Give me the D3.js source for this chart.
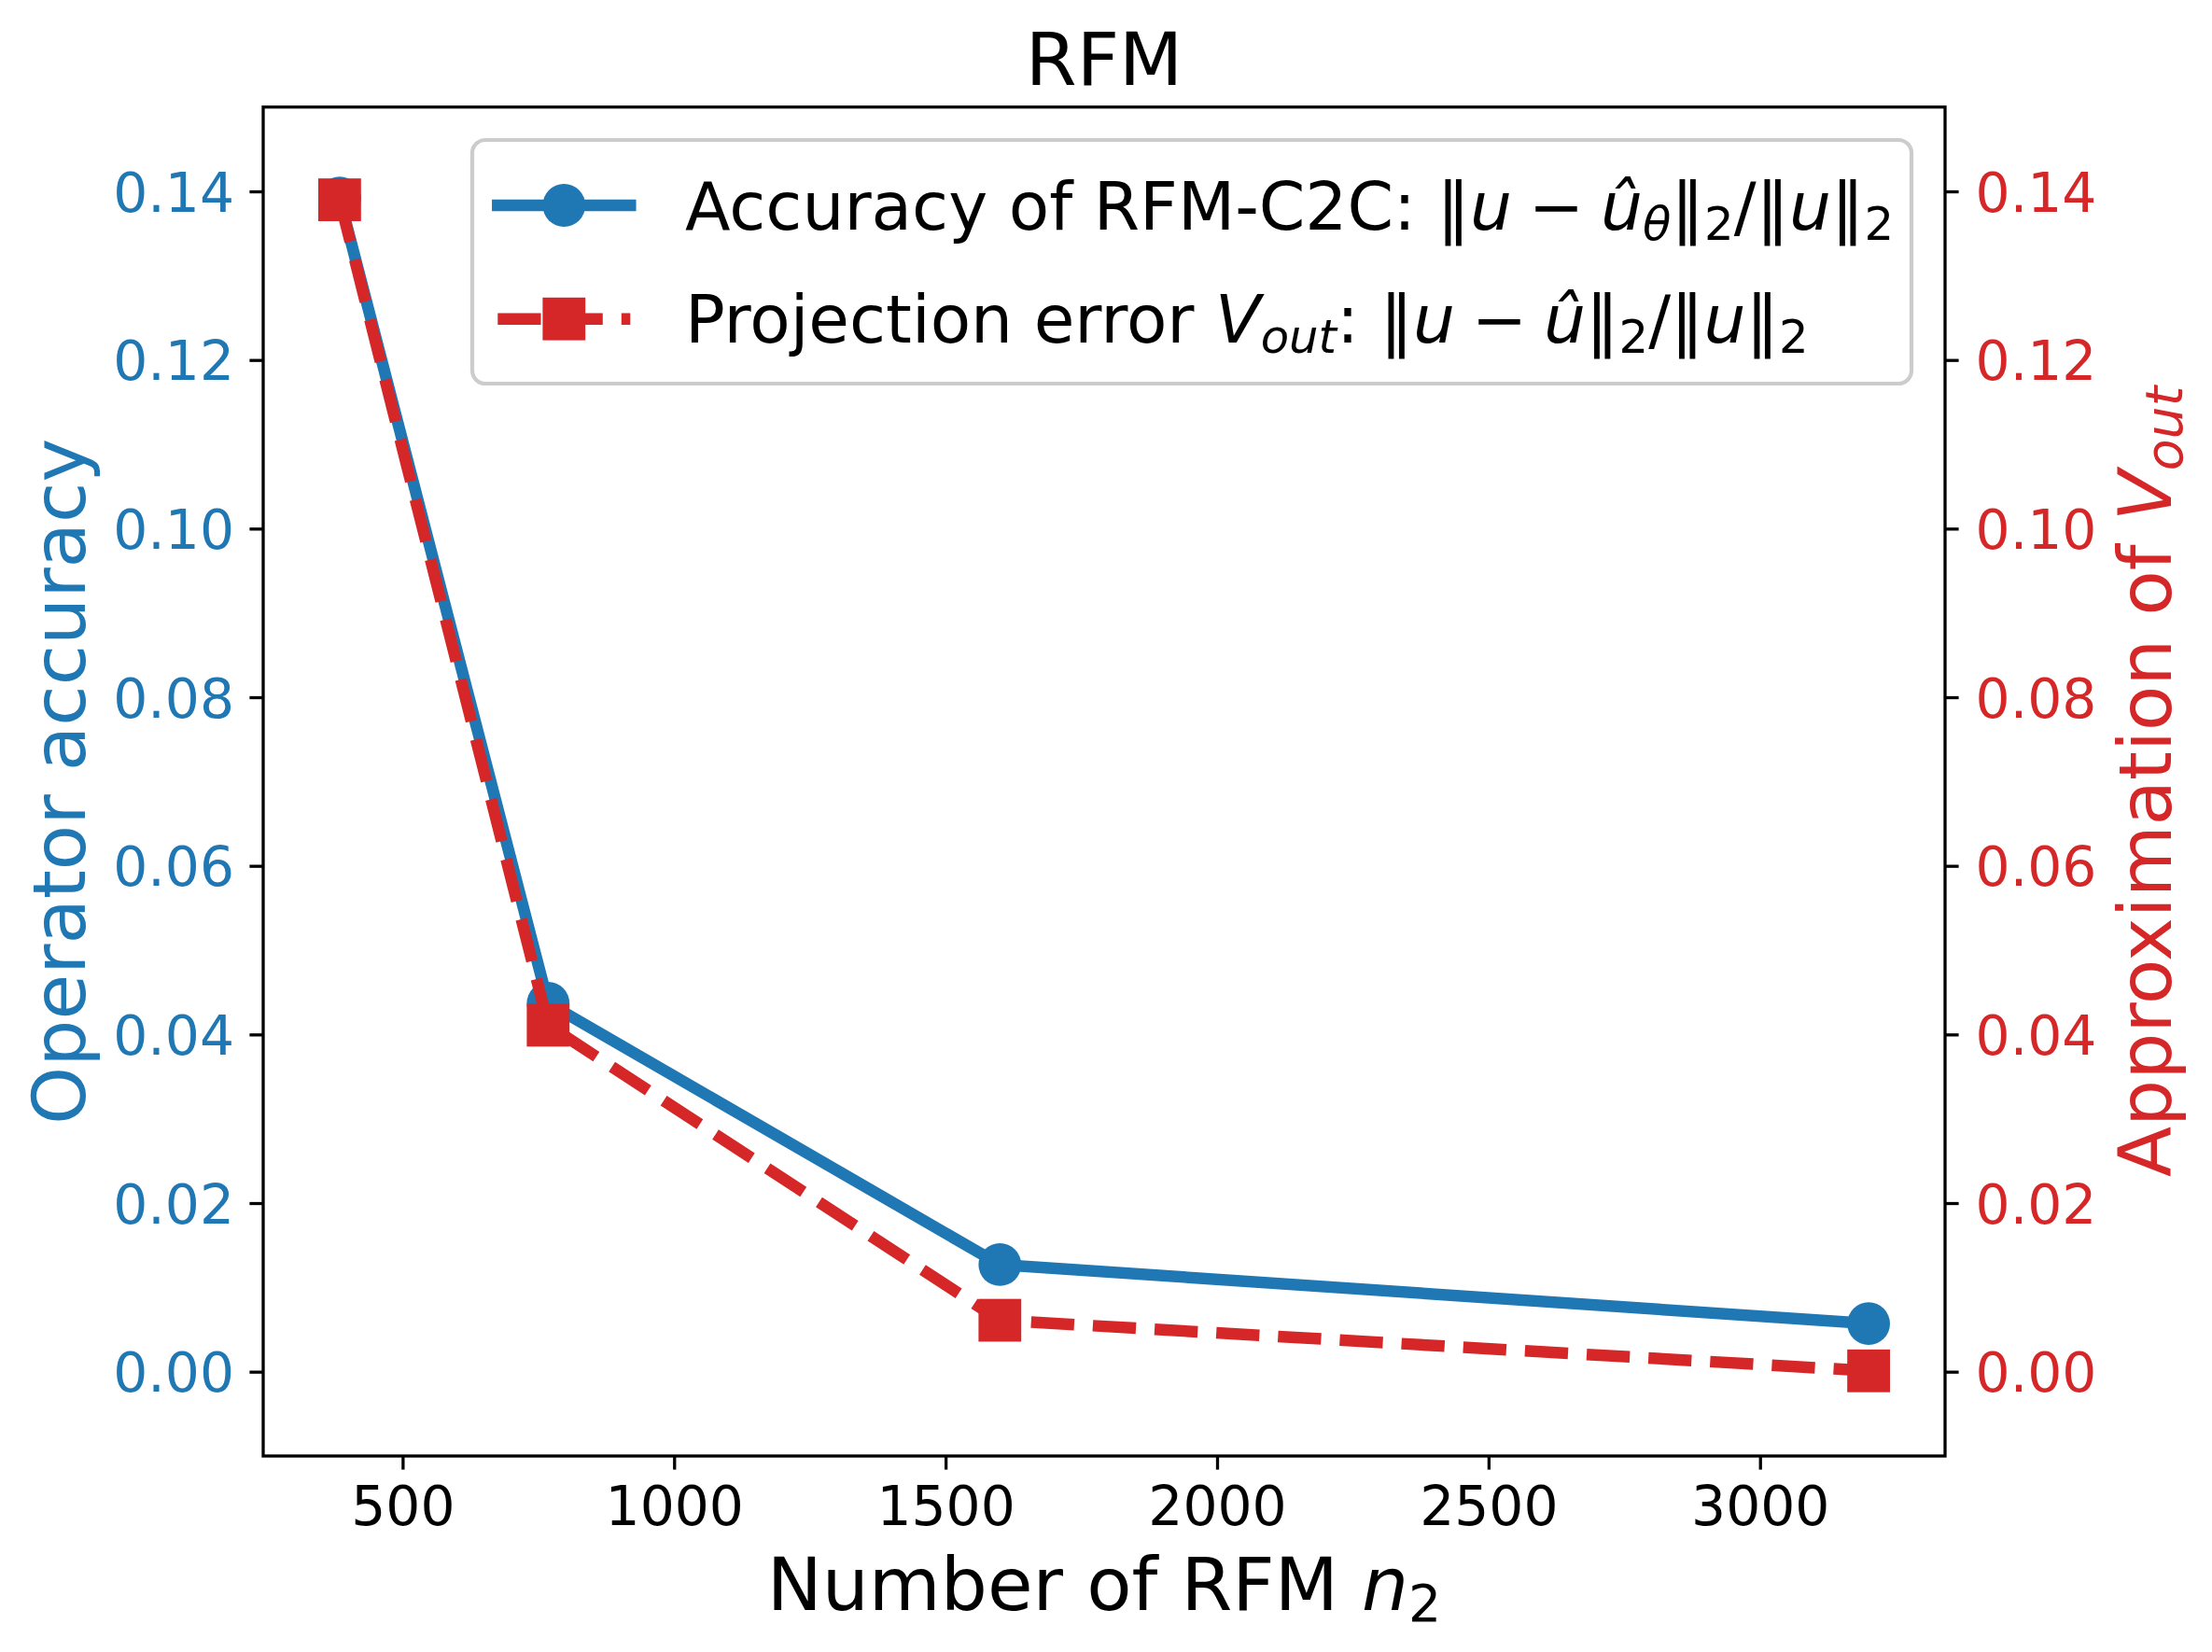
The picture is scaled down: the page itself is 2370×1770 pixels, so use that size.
<!DOCTYPE html>
<html><head><meta charset="utf-8">
<script src="https://cdn.jsdelivr.net/npm/d3@7"></script>
<style>
body{margin:0;background:#fff}
svg{display:block}
text{font-family:"DejaVu Sans",sans-serif}
</style>
</head><body>
<svg id="c" width="2370" height="1770"></svg>
<script>
// ---- data ----
const nValues = [384, 768, 1600, 3200];
const operatorAccuracy = [0.1392, 0.0437, 0.0127, 0.0057];
const projectionError = [0.1390, 0.0411, 0.0061, 0.0001];
const xTicks = [500, 1000, 1500, 2000, 2500, 3000];
const yTicks = [0.00, 0.02, 0.04, 0.06, 0.08, 0.10, 0.12, 0.14];
const titleText = "RFM";

const BLUE = "#1f77b4", RED = "#d62728";
const L = 282, R = 2084, T = 114.7, B = 1560;
const svg = d3.select("#c");

const x = d3.scaleLinear().domain([243.2, 3340.8]).range([L, R]);
const yL = d3.scaleLinear().domain([-0.01, 0.15]).range([B, T]);
const yR = d3.scaleLinear().domain([-0.01, 0.15]).range([B, T]);

const tickLen = 14.6, tickW = 3.3, tickFs = 58.3;

// axes
const gx = svg.append("g").attr("transform", `translate(0,${B})`)
  .call(d3.axisBottom(x).tickValues(xTicks).tickFormat(d3.format("d")).tickSize(tickLen).tickPadding(18));
const gyl = svg.append("g").attr("transform", `translate(${L},0)`)
  .call(d3.axisLeft(yL).tickValues(yTicks).tickFormat(d3.format(".2f")).tickSize(tickLen).tickPadding(16.4));
const gyr = svg.append("g").attr("transform", `translate(${R},0)`)
  .call(d3.axisRight(yR).tickValues(yTicks).tickFormat(d3.format(".2f")).tickSize(tickLen).tickPadding(18));
[gx, gyl, gyr].forEach(g => {
  g.select(".domain").remove();
  g.selectAll(".tick line").attr("stroke", "#000").attr("stroke-width", tickW);
  g.selectAll(".tick text").attr("font-size", tickFs).attr("font-family", "DejaVu Sans");
});
gx.selectAll(".tick text").attr("fill", "#000");
gyl.selectAll(".tick text").attr("fill", BLUE).attr("dy", "0.36em");
gyr.selectAll(".tick text").attr("fill", RED).attr("dy", "0.36em");

// lines
const lineBlue = d3.line().x((d, i) => x(nValues[i])).y(d => yL(d));
const lineRed = d3.line().x((d, i) => x(nValues[i])).y(d => yR(d));
const LW = 12.5, MS = 45.8;

svg.append("path").datum(operatorAccuracy).attr("d", lineBlue)
  .attr("fill", "none").attr("stroke", BLUE).attr("stroke-width", LW)
  .attr("stroke-linejoin", "round").attr("stroke-linecap", "square");
svg.append("g").selectAll("circle").data(operatorAccuracy).join("circle")
  .attr("cx", (d, i) => x(nValues[i])).attr("cy", d => yL(d)).attr("r", MS / 2).attr("fill", BLUE);

svg.append("path").datum(projectionError).attr("d", lineRed)
  .attr("fill", "none").attr("stroke", RED).attr("stroke-width", LW)
  .attr("stroke-linejoin", "round").attr("stroke-linecap", "butt")
  .attr("stroke-dasharray", "46.25,20");
svg.append("g").selectAll("rect").data(projectionError).join("rect")
  .attr("x", (d, i) => x(nValues[i]) - MS / 2).attr("y", d => yR(d) - MS / 2)
  .attr("width", MS).attr("height", MS).attr("fill", RED);

// spines
svg.append("rect").attr("x", L).attr("y", T).attr("width", R - L).attr("height", B - T)
  .attr("fill", "none").attr("stroke", "#000").attr("stroke-width", 3.3);

// title & labels
const labFs = 79;
svg.append("text").attr("x", (L + R) / 2).attr("y", 91).attr("text-anchor", "middle")
  .attr("font-size", labFs).attr("fill", "#000").text(titleText);

const xl = svg.append("text").attr("x", (L + R) / 2).attr("y", 1725).attr("text-anchor", "middle")
  .attr("font-size", labFs).attr("fill", "#000");
xl.append("tspan").text("Number of RFM ");
xl.append("tspan").attr("font-style", "italic").text("n");
xl.append("tspan").attr("font-size", labFs * 0.7).attr("dy", 12).text("2");

svg.append("text").attr("transform", `translate(91,${(T + B) / 2}) rotate(-90)`)
  .attr("text-anchor", "middle").attr("font-size", labFs).attr("fill", BLUE).text("Operator accuracy");

const yr = svg.append("text").attr("transform", `translate(2326,${(T + B) / 2}) rotate(-90)`)
  .attr("text-anchor", "middle").attr("font-size", labFs).attr("fill", RED);
yr.append("tspan").text("Approximation of ");
yr.append("tspan").attr("font-style", "italic").text("V");
yr.append("tspan").attr("font-style", "italic").attr("font-size", labFs * 0.7).attr("dy", 12).text("out");

// legend
const lg = svg.append("g");
lg.append("rect").attr("x", 506).attr("y", 150).attr("width", 2048 - 506).attr("height", 411 - 150)
  .attr("rx", 14).attr("ry", 14).attr("fill", "#fff").attr("fill-opacity", 0.8)
  .attr("stroke", "#cccccc").attr("stroke-width", 4.2);
const hx0 = 533.3, hx1 = 675.3, hxc = (hx0 + hx1) / 2;
const rows = [220, 341.7];
lg.append("line").attr("x1", hx0).attr("x2", hx1).attr("y1", rows[0]).attr("y2", rows[0])
  .attr("stroke", BLUE).attr("stroke-width", LW).attr("stroke-linecap", "square");
lg.append("circle").attr("cx", hxc).attr("cy", rows[0]).attr("r", MS / 2).attr("fill", BLUE);
lg.append("line").attr("x1", hx0).attr("x2", hx1).attr("y1", rows[1]).attr("y2", rows[1])
  .attr("stroke", RED).attr("stroke-width", LW).attr("stroke-linecap", "butt").attr("stroke-dasharray", "46.25,20");
lg.append("rect").attr("x", hxc - MS / 2).attr("y", rows[1] - MS / 2).attr("width", MS).attr("height", MS).attr("fill", RED);

const lgFs = 71, sub = 0.7 * lgFs, sh = 11;
function addParts(t, parts) {
  let cur = 0;
  parts.forEach(p => {
    const s = t.append("tspan").text(p.t);
    if (p.i) s.attr("font-style", "italic");
    const target = p.s ? sh : 0;
    if (target !== cur) { s.attr("dy", target - cur); cur = target; }
    if (p.s) s.attr("font-size", sub);
  });
}
const SP = "\u2005";
const t1 = lg.append("text").attr("x", 734).attr("y", 246).attr("font-size", lgFs).attr("fill", "#000");
addParts(t1, [
  {t: "Accuracy of RFM-C2C: ‖"}, {t: "u", i: 1}, {t: SP + "−" + SP}, {t: "û", i: 1},
  {t: "θ", i: 1, s: 1}, {t: "‖"}, {t: "2", s: 1}, {t: "/‖"}, {t: "u", i: 1}, {t: "‖"}, {t: "2", s: 1}
]);
const t2 = lg.append("text").attr("x", 734).attr("y", 367).attr("font-size", lgFs).attr("fill", "#000");
addParts(t2, [
  {t: "Projection error "}, {t: "V", i: 1}, {t: "out", i: 1, s: 1}, {t: ": ‖"}, {t: "u", i: 1}, {t: SP + "−" + SP},
  {t: "û", i: 1}, {t: "‖"}, {t: "2", s: 1}, {t: "/‖"}, {t: "u", i: 1}, {t: "‖"}, {t: "2", s: 1}
]);
</script>
</body></html>
